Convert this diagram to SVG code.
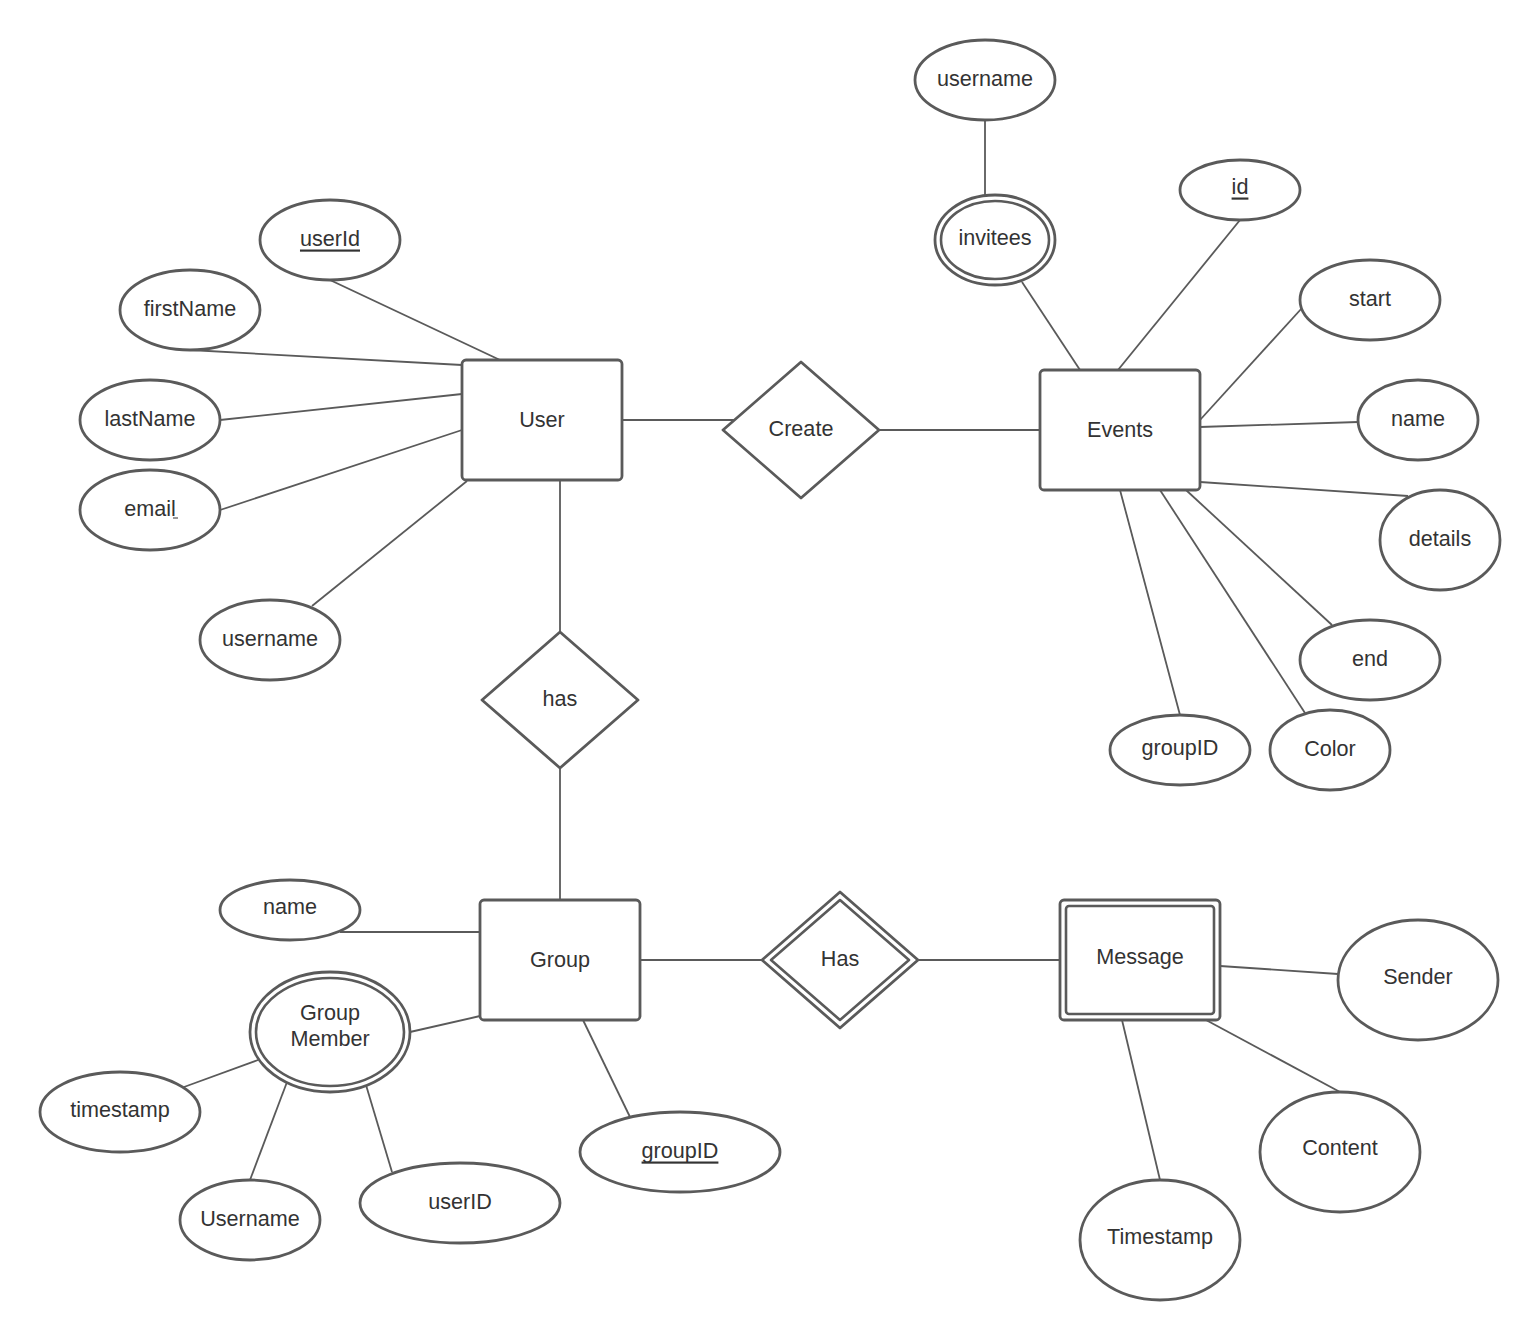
<svg xmlns="http://www.w3.org/2000/svg" width="1540" height="1340" viewBox="0 0 1540 1340">
<style>
.s{fill:#fff;stroke:#5a5a5a;stroke-width:2.8}
.n{fill:none;stroke:#5a5a5a;stroke-width:2.6}
.c line{stroke:#5a5a5a;stroke-width:1.8}
text{font-family:"Liberation Sans",Arial,sans-serif;font-size:21.6px;fill:#333;text-anchor:middle;dominant-baseline:central}
.u{text-decoration:underline}
</style>
<rect width="1540" height="1340" fill="#fff"/>
<g class="c" id="connectors">
<line x1="330" y1="280" x2="500" y2="360"/>
<line x1="190" y1="350" x2="462" y2="365"/>
<line x1="220" y1="420" x2="462" y2="394"/>
<line x1="220" y1="510" x2="462" y2="430"/>
<line x1="312" y1="606" x2="467" y2="481"/>
<line x1="622" y1="420" x2="734" y2="420"/>
<line x1="879" y1="430" x2="1040" y2="430"/>
<line x1="985" y1="120" x2="985" y2="195"/>
<line x1="1022" y1="282" x2="1080" y2="370"/>
<line x1="1240" y1="220" x2="1118" y2="370"/>
<line x1="1302" y1="308" x2="1200" y2="420"/>
<line x1="1358" y1="422" x2="1200" y2="427"/>
<line x1="1408" y1="496" x2="1200" y2="482"/>
<line x1="1332" y1="625" x2="1186" y2="490"/>
<line x1="1305" y1="713" x2="1160" y2="490"/>
<line x1="1180" y1="715" x2="1120" y2="490"/>
<line x1="560" y1="480" x2="560" y2="632"/>
<line x1="560" y1="768" x2="560" y2="900"/>
<line x1="340" y1="932" x2="480" y2="932"/>
<line x1="410" y1="1032" x2="480" y2="1016"/>
<line x1="583" y1="1020" x2="630" y2="1117"/>
<line x1="640" y1="960" x2="762" y2="960"/>
<line x1="918" y1="960" x2="1060" y2="960"/>
<line x1="1220" y1="966" x2="1338" y2="974"/>
<line x1="1206" y1="1020" x2="1340" y2="1092"/>
<line x1="1122" y1="1020" x2="1160" y2="1180"/>
<line x1="258" y1="1060" x2="184" y2="1087"/>
<line x1="287" y1="1082" x2="250" y2="1180"/>
<line x1="366" y1="1085" x2="392" y2="1172"/>
</g>
<g id="user"><rect class="s" x="462" y="360" width="160" height="120" rx="4"/><text x="542" y="419">User</text></g>
<g id="events"><rect class="s" x="1040" y="370" width="160" height="120" rx="4"/><text x="1120" y="429">Events</text></g>
<g id="group"><rect class="s" x="480" y="900" width="160" height="120" rx="4"/><text x="560" y="959">Group</text></g>
<g id="message"><rect class="s" x="1060" y="900" width="160" height="120" rx="4"/><rect class="n" x="1066" y="906" width="148" height="108" rx="3"/><text x="1140" y="956">Message</text></g>
<g id="create"><polygon class="s" points="801,362 879,430 801,498 723,430" stroke-linejoin="round"/><text x="801" y="428">Create</text></g>
<g id="has1"><polygon class="s" points="560,632 638,700 560,768 482,700" stroke-linejoin="round"/><text x="560" y="698">has</text></g>
<g id="has2"><polygon class="s" points="840,892 918,960 840,1028 762,960" stroke-linejoin="round"/><polygon class="n" points="840,900 909,960 840,1020 771,960" stroke-linejoin="round"/><text x="840" y="958">Has</text></g>
<g id="userId"><ellipse class="s" cx="330" cy="240" rx="70" ry="40"/><text class="u" x="330" y="238">userId</text></g>
<g id="firstName"><ellipse class="s" cx="190" cy="310" rx="70" ry="40"/><text x="190" y="308">firstName</text></g>
<g id="lastName"><ellipse class="s" cx="150" cy="420" rx="70" ry="40"/><text x="150" y="418">lastName</text></g>
<g id="email"><ellipse class="s" cx="150" cy="510" rx="70" ry="40"/><text x="150" y="508">email</text><line x1="173" y1="518" x2="178" y2="518" stroke="#333" stroke-width="1"/></g>
<g id="username1"><ellipse class="s" cx="270" cy="640" rx="70" ry="40"/><text x="270" y="638">username</text></g>
<g id="username2"><ellipse class="s" cx="985" cy="80" rx="70" ry="40"/><text x="985" y="78">username</text></g>
<g id="invitees"><ellipse class="s" cx="995" cy="240" rx="60" ry="45"/><ellipse class="n" cx="995" cy="240" rx="54" ry="39"/><text x="995" y="237">invitees</text></g>
<g id="id"><ellipse class="s" cx="1240" cy="190" rx="60" ry="30"/><text class="u" x="1240" y="186">id</text></g>
<g id="start"><ellipse class="s" cx="1370" cy="300" rx="70" ry="40"/><text x="1370" y="298">start</text></g>
<g id="name1"><ellipse class="s" cx="1418" cy="420" rx="60" ry="40"/><text x="1418" y="418">name</text></g>
<g id="details"><ellipse class="s" cx="1440" cy="540" rx="60" ry="50"/><text x="1440" y="538">details</text></g>
<g id="end"><ellipse class="s" cx="1370" cy="660" rx="70" ry="40"/><text x="1370" y="658">end</text></g>
<g id="groupID1"><ellipse class="s" cx="1180" cy="750" rx="70" ry="35"/><text x="1180" y="747">groupID</text></g>
<g id="color"><ellipse class="s" cx="1330" cy="750" rx="60" ry="40"/><text x="1330" y="748">Color</text></g>
<g id="name2"><ellipse class="s" cx="290" cy="910" rx="70" ry="30"/><text x="290" y="906">name</text></g>
<g id="groupMember"><ellipse class="s" cx="330" cy="1032" rx="80" ry="60"/><ellipse class="n" cx="330" cy="1032" rx="74" ry="54"/><text x="330" y="1012">Group</text><text x="330" y="1038">Member</text></g>
<g id="timestamp"><ellipse class="s" cx="120" cy="1112" rx="80" ry="40"/><text x="120" y="1109">timestamp</text></g>
<g id="username3"><ellipse class="s" cx="250" cy="1220" rx="70" ry="40"/><text x="250" y="1218">Username</text></g>
<g id="userID"><ellipse class="s" cx="460" cy="1203" rx="100" ry="40"/><text x="460" y="1201">userID</text></g>
<g id="groupID2"><ellipse class="s" cx="680" cy="1152" rx="100" ry="40"/><text class="u" x="680" y="1150">groupID</text></g>
<g id="sender"><ellipse class="s" cx="1418" cy="980" rx="80" ry="60"/><text x="1418" y="976">Sender</text></g>
<g id="content"><ellipse class="s" cx="1340" cy="1152" rx="80" ry="60"/><text x="1340" y="1147">Content</text></g>
<g id="timestamp2"><ellipse class="s" cx="1160" cy="1240" rx="80" ry="60"/><text x="1160" y="1236">Timestamp</text></g>
</svg>
